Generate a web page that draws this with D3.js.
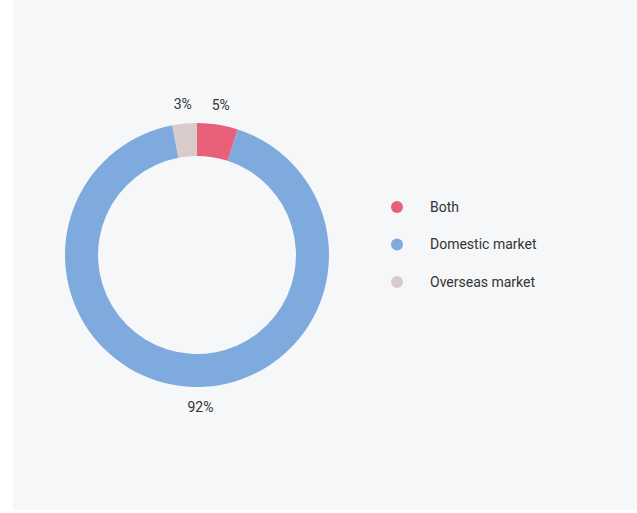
<!DOCTYPE html>
<html>
<head>
<meta charset="utf-8">
<script src="https://cdn.jsdelivr.net/npm/d3@7"></script>
<style>
  html, body { margin: 0; padding: 0; background: #ffffff; }
  svg { display: block; font-family: Roboto, "Noto Sans", sans-serif; }
</style>
</head>
<body>
<svg id="chart" width="637" height="513"></svg>
<script>
// Market share data
var categories = ["Both", "Domestic market", "Overseas market"];
var shares = [5, 92, 3];
var labels = ["5%", "92%", "3%"];
var colors = ["#e8607a", "#7faadd", "#d9cbcc"];

var svg = d3.select("#chart");

// light panel behind the chart
svg.append("rect")
    .attr("x", 13).attr("y", 0)
    .attr("width", 624).attr("height", 510)
    .attr("fill", "#f6f7f9");

var cx = 197, cy = 255;
var outerR = 132, innerR = 99, labelR = 152;

var pie = d3.pie().sort(null).value(function(d){ return d; });
var arc = d3.arc().innerRadius(innerR).outerRadius(outerR);
var labelArc = d3.arc().innerRadius(labelR).outerRadius(labelR);

var g = svg.append("g").attr("transform", "translate(" + cx + "," + cy + ")");
var arcs = pie(shares);

g.selectAll("path.slice")
    .data(arcs)
    .enter().append("path")
    .attr("class", "slice")
    .attr("d", arc)
    .attr("fill", function(d, i){ return colors[i]; });

// percentage labels outside the ring
g.selectAll("text.pct")
    .data(arcs)
    .enter().append("text")
    .attr("class", "pct")
    .attr("transform", function(d){ return "translate(" + labelArc.centroid(d) + ")"; })
    .attr("text-anchor", function(d){
        var mid = (d.startAngle + d.endAngle) / 2;
        return Math.cos(mid) < -0.5 ? "start" : "middle";
    })
    .attr("dy", "0.35em")
    .attr("font-size", 14)
    .attr("fill", "#333")
    .text(function(d, i){ return labels[i]; });

// legend
var legendY = d3.scalePoint().domain(categories).range([207, 282]);
var legend = svg.append("g");

var items = legend.selectAll("g.item")
    .data(categories)
    .enter().append("g")
    .attr("class", "item")
    .attr("transform", function(d){ return "translate(397," + legendY(d) + ")"; });

items.append("circle")
    .attr("r", 6)
    .attr("fill", function(d, i){ return colors[i]; });

items.append("text")
    .attr("x", 33)
    .attr("dy", "0.35em")
    .attr("font-size", 14)
    .attr("fill", "#333")
    .text(function(d){ return d; });
</script>
</body>
</html>
